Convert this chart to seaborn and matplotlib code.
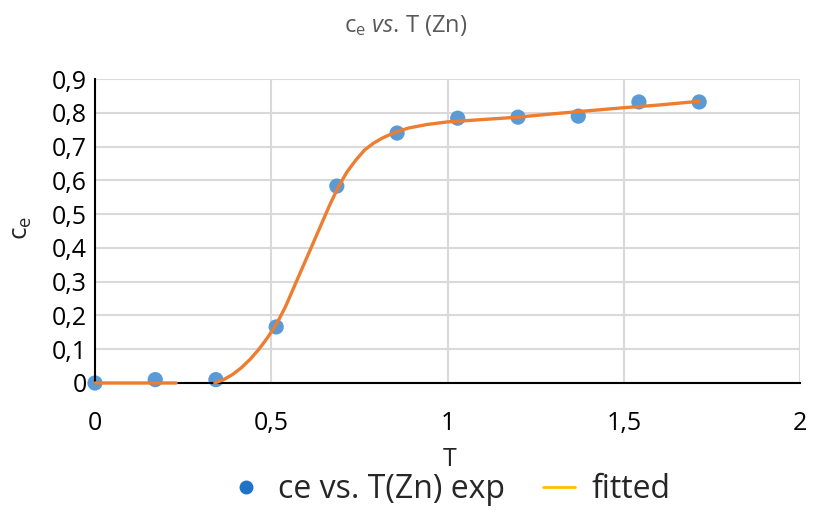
import numpy as np
import pandas as pd
import matplotlib
matplotlib.use("Agg")
import matplotlib.pyplot as plt
import seaborn as sns
from matplotlib.lines import Line2D

# ---- data ----
T_exp = [0.0, 0.171, 0.343, 0.514, 0.686, 0.857, 1.029, 1.2, 1.371, 1.543, 1.714]
ce_exp = [0.0, 0.01, 0.01, 0.166, 0.583, 0.74, 0.784, 0.787, 0.79, 0.832, 0.832]

T_fit = [0, 0.1, 0.2, 0.23, np.nan,
         0.34, 0.365, 0.39, 0.415, 0.44, 0.465, 0.49, 0.515, 0.54, 0.565, 0.59,
         0.615, 0.64, 0.665, 0.69, 0.715, 0.74, 0.765, 0.79, 0.815, 0.84, 0.865,
         0.89, 0.94, 1.0, 1.1, 1.2, 1.3, 1.4, 1.5, 1.6, 1.714]
ce_fit = [0, 0, 0, 0, np.nan,
          0, 0.01, 0.025, 0.045, 0.07, 0.10, 0.135, 0.175, 0.225, 0.285, 0.345,
          0.405, 0.465, 0.525, 0.58, 0.625, 0.66, 0.69, 0.71, 0.725, 0.737, 0.747,
          0.755, 0.765, 0.773, 0.78, 0.787, 0.797, 0.806, 0.815, 0.823, 0.834]

x_ticks = [0, 0.5, 1, 1.5, 2]
x_labels = ["0", "0,5", "1", "1,5", "2"]
y_ticks = [0, 0.1, 0.2, 0.3, 0.4, 0.5, 0.6, 0.7, 0.8, 0.9]
y_labels = ["0", "0,1", "0,2", "0,3", "0,4", "0,5", "0,6", "0,7", "0,8", "0,9"]

sns.set_style("white")
plt.rcParams['font.family'] = ['Open Sans', 'DejaVu Sans']
plt.rcParams['mathtext.fontset'] = 'custom'
plt.rcParams['mathtext.rm'] = 'Open Sans'
plt.rcParams['mathtext.it'] = 'Open Sans:italic'

fig = plt.figure(figsize=(8.13, 5.12), dpi=100)
ax = fig.add_axes([95/813, 1-383/512, (800-95)/813, (383-79)/512])

df_exp = pd.DataFrame({"T": T_exp, "ce": ce_exp})
df_fit = pd.DataFrame({"T": T_fit, "ce": ce_fit})

ax.plot(df_fit["T"], df_fit["ce"], color="#ED7D31", lw=2.4, zorder=3,
        solid_joinstyle="round", solid_capstyle="round")
sns.scatterplot(data=df_exp, x="T", y="ce", ax=ax, color="#5B9BD5", s=120,
                edgecolor="none", zorder=2, legend=False)

ax.set_xlim(0, 2)
ax.set_ylim(0, 0.9)
ax.set_xticks(x_ticks)
ax.set_xticklabels(x_labels)
ax.set_yticks(y_ticks)
ax.set_yticklabels(y_labels)
ax.grid(True, color="#d9d9d9", lw=1.5)
ax.set_axisbelow(True)
for s in ["top", "right"]:
    ax.spines[s].set_visible(False)
for s in ["left", "bottom"]:
    ax.spines[s].set_color("black")
    ax.spines[s].set_linewidth(1.5)
ax.tick_params(axis="both", direction="in", length=10, width=1.5, colors="black",
               labelsize=18, pad=6)
ax.tick_params(axis="x", pad=20)
ax.set_xlabel("")
ax.set_ylabel("")
for c in ax.collections:
    c.set_clip_on(False)
for l in ax.lines:
    l.set_clip_on(False)

fig.text(406/813, 1-25/512, r"c$_\mathregular{e}$ $\it{vs}$. T (Zn)", ha="center", va="center",
         fontsize=17, color="#595959")
fig.text(450/813, 1-460/512, "T", ha="center", va="center", fontsize=18)
fig.text(22/813, 1-228/512, r"c$_\mathregular{e}$", ha="center", va="center", fontsize=19,
         rotation=90)

handles = [Line2D([], [], marker="o", ls="none", color="#1F72C4", markersize=9),
           Line2D([], [], color="#FFC000", lw=2)]
fig.legend(handles, ["ce vs. T(Zn) exp", "fitted"], loc="center",
           bbox_to_anchor=(450/813, 1-490/512), ncol=2, frameon=False, fontsize=23,
           handlelength=1.0, columnspacing=1.2, handletextpad=0.5)

fig.savefig("out.png", dpi=100)
